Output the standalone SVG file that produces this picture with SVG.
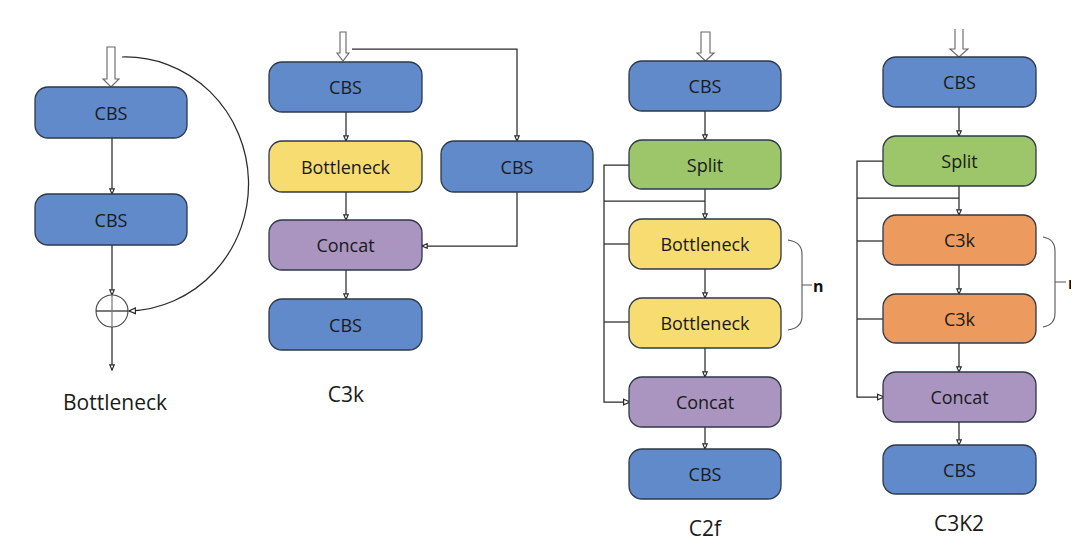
<svg xmlns="http://www.w3.org/2000/svg" width="1081" height="549" viewBox="0 0 1081 549">
<style>
.box{stroke:#2e3848;stroke-width:1.3}
.blue{fill:#618ACA}
.yellow{fill:#F7DC72}
.purple{fill:#A995C0}
.green{fill:#9DC66A}
.orange{fill:#EC9A5D}
.t{font-family:"Open Sans","Liberation Sans",sans-serif;font-size:18px;fill:#1a1a1a;text-anchor:middle;dominant-baseline:central}
.lbl{font-family:"Open Sans","Liberation Sans",sans-serif;font-size:21px;fill:#1a1a1a;text-anchor:middle}
.ln{fill:none;stroke:#2a2a2a;stroke-width:1.25}
.hollow{fill:#fff;stroke:#666;stroke-width:1.1}
.n{font-family:"Open Sans","Liberation Sans",sans-serif;font-size:16px;font-weight:bold;fill:#111}
</style>
<defs>
<marker id="ah" viewBox="0 0 10 10" refX="9" refY="5" markerWidth="6.5" markerHeight="6.5" markerUnits="userSpaceOnUse" orient="auto">
<path d="M1,1.5 L9,5 L1,8.5 Z" fill="#fff" stroke="#2a2a2a" stroke-width="1.8"/>
</marker>
<marker id="ahl" viewBox="0 0 10 10" refX="9" refY="5" markerWidth="8" markerHeight="8" markerUnits="userSpaceOnUse" orient="auto">
<path d="M1,1.5 L9,5 L1,8.5 Z" fill="#fff" stroke="#2a2a2a" stroke-width="1.5"/>
</marker>
<clipPath id="clipn"><rect x="0" y="0" width="1071" height="549"/></clipPath>
</defs>
<rect width="1081" height="549" fill="#fff"/>

<g id="connectors">
<!-- Bottleneck -->
<line class="ln" x1="112" y1="138" x2="112" y2="194" marker-end="url(#ah)"/>
<line class="ln" x1="112" y1="245" x2="112" y2="295" marker-end="url(#ah)"/>
<line class="ln" x1="112" y1="327" x2="112" y2="370" marker-end="url(#ah)"/>
<path class="ln" d="M122,57 A123,127 0 0 1 129,311" marker-end="url(#ahl)"/>
<!-- C3k -->
<path class="ln" d="M352,49 H517 V141" marker-end="url(#ah)"/>
<line class="ln" x1="346" y1="112" x2="346" y2="141" marker-end="url(#ah)"/>
<line class="ln" x1="346" y1="192" x2="346" y2="220" marker-end="url(#ah)"/>
<line class="ln" x1="346" y1="270" x2="346" y2="299" marker-end="url(#ah)"/>
<path class="ln" d="M517,192 V246 H422" marker-end="url(#ah)"/>
<!-- C2f -->
<line class="ln" x1="705" y1="111" x2="705" y2="140" marker-end="url(#ah)"/>
<line class="ln" x1="705" y1="189" x2="705" y2="219" marker-end="url(#ah)"/>
<line class="ln" x1="705" y1="269" x2="705" y2="298" marker-end="url(#ah)"/>
<line class="ln" x1="705" y1="348" x2="705" y2="377" marker-end="url(#ah)"/>
<line class="ln" x1="705" y1="427" x2="705" y2="449" marker-end="url(#ah)"/>
<path class="ln" d="M630,165 H604 V402 H630" marker-end="url(#ahl)"/>
<path class="ln" d="M604,201 H705"/>
<path class="ln" d="M604,244 H630"/>
<path class="ln" d="M604,322 H630"/>
<!-- C3K2 -->
<line class="ln" x1="959" y1="107" x2="959" y2="136" marker-end="url(#ah)"/>
<line class="ln" x1="959" y1="186" x2="959" y2="215" marker-end="url(#ah)"/>
<line class="ln" x1="959" y1="265" x2="959" y2="294" marker-end="url(#ah)"/>
<line class="ln" x1="959" y1="343" x2="959" y2="372" marker-end="url(#ah)"/>
<line class="ln" x1="959" y1="422" x2="959" y2="445" marker-end="url(#ah)"/>
<path class="ln" d="M884,161 H857 V397 H884" marker-end="url(#ahl)"/>
<path class="ln" d="M857,198 H959"/>
<path class="ln" d="M857,241 H884"/>
<path class="ln" d="M857,319 H884"/>
</g>

<g id="inputs">
<polygon class="hollow" points="107,47 115,47 115,79 119,79 111,87 103,79 107,79"/>
<polygon class="hollow" points="340,32 346,32 346,53 349,53 343,61 337,53 340,53"/>
<polygon class="hollow" points="701,32 710,32 710,53 714,53 705.5,61 697,53 701,53"/>
<path class="hollow" d="M955,29 V49 H950 L959,57 L968,49 H963 V29"/>
</g>

<!-- Bottleneck panel -->
<g id="bn_cbs1"><rect class="box blue" x="35" y="87" width="152" height="51" rx="13"/><text class="t" x="111" y="112.5">CBS</text></g>
<g id="bn_cbs2"><rect class="box blue" x="35" y="194" width="152" height="51" rx="13"/><text class="t" x="111" y="219.5">CBS</text></g>
<g id="bn_add"><circle cx="112" cy="311" r="16" fill="#fff" stroke="#444" stroke-width="1.1"/><line class="ln" x1="96" y1="311" x2="128" y2="311"/><line x1="112" y1="295" x2="112" y2="327" stroke="#777" stroke-width="1.2"/></g>
<text class="lbl" x="115" y="410">Bottleneck</text>

<!-- C3k panel -->
<g id="c3k_cbs1"><rect class="box blue" x="269" y="62" width="153" height="50" rx="13"/><text class="t" x="345.5" y="87">CBS</text></g>
<g id="c3k_bottleneck"><rect class="box yellow" x="269" y="141" width="153" height="51" rx="13"/><text class="t" x="345.5" y="166.5">Bottleneck</text></g>
<g id="c3k_cbs_side"><rect class="box blue" x="441" y="141" width="152" height="51" rx="13"/><text class="t" x="517" y="166.5">CBS</text></g>
<g id="c3k_concat"><rect class="box purple" x="269" y="220" width="153" height="50" rx="13"/><text class="t" x="345.5" y="245">Concat</text></g>
<g id="c3k_cbs2"><rect class="box blue" x="269" y="299" width="153" height="51" rx="13"/><text class="t" x="345.5" y="324.5">CBS</text></g>
<text class="lbl" x="346" y="402">C3k</text>

<!-- C2f panel -->
<g id="c2f_cbs1"><rect class="box blue" x="629" y="61" width="152" height="50" rx="13"/><text class="t" x="705" y="86">CBS</text></g>
<g id="c2f_split"><rect class="box green" x="629" y="140" width="152" height="49" rx="13"/><text class="t" x="705" y="164.5">Split</text></g>
<g id="c2f_b1"><rect class="box yellow" x="629" y="219" width="152" height="50" rx="13"/><text class="t" x="705" y="244">Bottleneck</text></g>
<g id="c2f_b2"><rect class="box yellow" x="629" y="298" width="152" height="50" rx="13"/><text class="t" x="705" y="323">Bottleneck</text></g>
<g id="c2f_concat"><rect class="box purple" x="629" y="377" width="152" height="50" rx="13"/><text class="t" x="705" y="402">Concat</text></g>
<g id="c2f_cbs2"><rect class="box blue" x="629" y="449" width="152" height="50" rx="13"/><text class="t" x="705" y="474">CBS</text></g>
<g id="c2f_brace"><path d="M788,240 Q802,242 802,254 L802,316 Q802,328 788,330 M802,285 H812" fill="none" stroke="#555" stroke-width="1.1"/><text class="n" x="813" y="292">n</text></g>
<text class="lbl" x="705" y="536">C2f</text>

<!-- C3K2 panel -->
<g id="c3k2_cbs1"><rect class="box blue" x="883" y="57" width="153" height="50" rx="13"/><text class="t" x="959.5" y="82">CBS</text></g>
<g id="c3k2_split"><rect class="box green" x="883" y="136" width="153" height="50" rx="13"/><text class="t" x="959.5" y="161">Split</text></g>
<g id="c3k2_c3k1"><rect class="box orange" x="883" y="215" width="153" height="50" rx="13"/><text class="t" x="959.5" y="240">C3k</text></g>
<g id="c3k2_c3k2"><rect class="box orange" x="883" y="294" width="153" height="49" rx="13"/><text class="t" x="959.5" y="318.5">C3k</text></g>
<g id="c3k2_concat"><rect class="box purple" x="883" y="372" width="153" height="50" rx="13"/><text class="t" x="959.5" y="397">Concat</text></g>
<g id="c3k2_cbs2"><rect class="box blue" x="883" y="445" width="153" height="49" rx="13"/><text class="t" x="959.5" y="469.5">CBS</text></g>
<g id="c3k2_brace"><path d="M1043,237 Q1055,239 1055,251 L1055,313 Q1055,325 1043,327 M1055,282 H1066" fill="none" stroke="#555" stroke-width="1.1"/><text class="n" x="1068" y="289" clip-path="url(#clipn)">n</text></g>
<text class="lbl" x="959" y="531">C3K2</text>
</svg>
